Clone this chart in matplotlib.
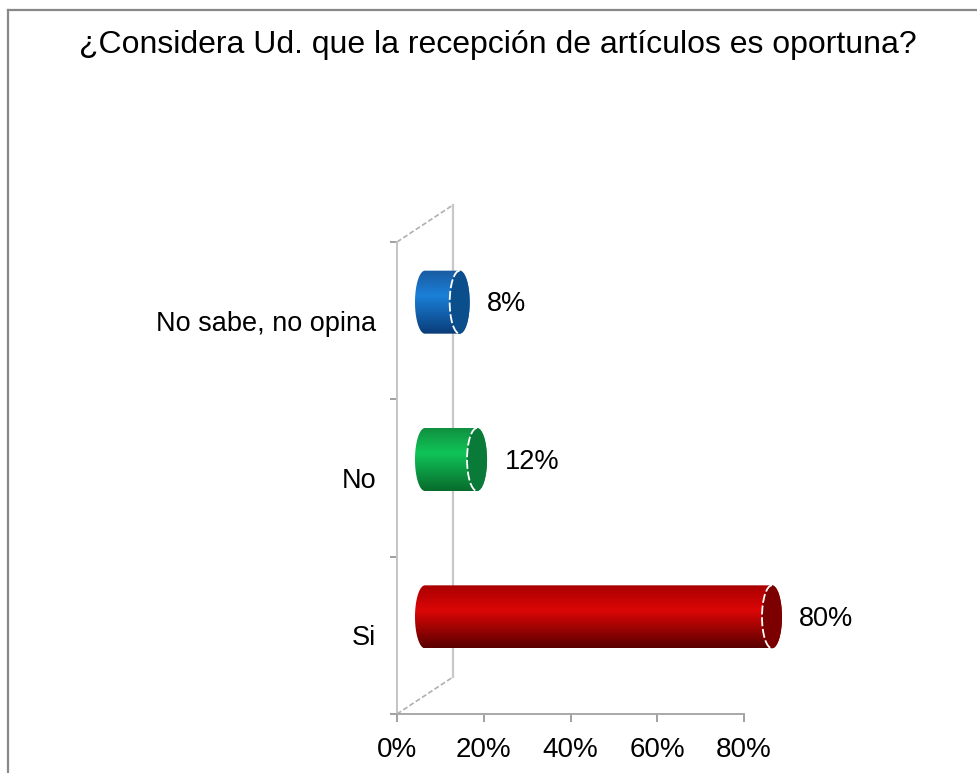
import numpy as np
import matplotlib.pyplot as plt
from matplotlib.path import Path
from matplotlib.patches import PathPatch, Ellipse, Arc
from matplotlib.lines import Line2D
from matplotlib.colors import LinearSegmentedColormap

plt.rcParams['font.family'] = ['Liberation Sans', 'DejaVu Sans']

# datos de la encuesta
categorias = ['Si', 'No', 'No sabe, no opina']
porcentajes = [0.80, 0.12, 0.08]
etiquetas = ['80%', '12%', '8%']
ticks_x = [0.0, 0.2, 0.4, 0.6, 0.8]
ticks_x_txt = ['0%', '20%', '40%', '60%', '80%']
titulo = '¿Considera Ud. que la recepción de artículos es oportuna?'

# colores de cada cilindro: borde superior, centro, borde inferior, tapa
colores = [
    ['#a80000', '#dc0606', '#580000', '#7c0000'],
    ['#109040', '#10c458', '#086a2c', '#0a7a38'],
    ['#1a5aa0', '#1a80d8', '#0a3c78', '#0a4e8c'],
]

W, H = 977, 773
fig = plt.figure(figsize=(W / 100, H / 100), dpi=100)
ax = fig.add_axes([397 / W, 59 / H, 347 / W, 472 / H])
ax.set_xlim(0, 0.8)
ax.set_ylim(-0.5, 2.5)

# escala en pixeles para el efecto 3D
px_x = 347 / 0.8
px_y = 472 / 3
dx = 56 / px_x          # profundidad en x
dy = 37 / px_y          # profundidad en y
hh = 31.5 / px_y        # media altura del cilindro
a = 10 / px_x           # semi-eje de la tapa

# pared izquierda: linea trasera y diagonales
ax.plot([dx, dx], [-0.5 + dy, 2.5 + dy], color='#c8c8c8', lw=1.6, clip_on=False, zorder=1)
ax.plot([0, dx], [2.5, 2.5 + dy], color='#b0b0b0', lw=1.2, ls=(0, (3, 1.5)), clip_on=False, zorder=1)
ax.plot([0, dx], [-0.5, -0.5 + dy], color='#b0b0b0', lw=1.2, ls=(0, (3, 1.5)), clip_on=False, zorder=1)

t = np.linspace(0, np.pi, 60)
for i, (v, lbl, col) in enumerate(zip(porcentajes, etiquetas, colores)):
    yc = i + dy / 2
    x0 = dx / 2
    x1 = v + dx / 2
    # contorno del cilindro: lado superior, tapa derecha, lado inferior, extremo izquierdo
    der = np.column_stack([x1 + a * np.sin(t), yc + hh * np.cos(t)])
    izq = np.column_stack([x0 - a * np.sin(t), yc - hh * np.cos(t)])
    verts = np.vstack([[x0, yc + hh], der, izq, [x0, yc + hh]])
    codes = [Path.MOVETO] + [Path.LINETO] * (len(verts) - 2) + [Path.CLOSEPOLY]
    patch = PathPatch(Path(verts, codes), facecolor='none', edgecolor='none',
                      zorder=3, clip_on=False)
    ax.add_patch(patch)

    cmap = LinearSegmentedColormap.from_list('c%d' % i, [(0, col[0]), (0.4, col[1]), (1, col[2])])
    grad = np.linspace(0, 1, 256).reshape(-1, 1)
    img = ax.imshow(grad, extent=(x0 - a, x1 + a, yc - hh, yc + hh), aspect='auto',
                    cmap=cmap, origin='upper', zorder=3, interpolation='bilinear')
    img.set_clip_box(fig.bbox)
    img.set_clip_path(patch)

    ax.add_patch(Ellipse((x1, yc), 2 * a, 2 * hh, facecolor=col[3], edgecolor='none',
                         zorder=4, clip_on=False))
    ax.add_patch(Arc((x1, yc), 2 * a, 2 * hh, theta1=90, theta2=270, color='white',
                     lw=1.3, ls=(0, (5, 1.5)), zorder=5, clip_on=False))

    ax.annotate(lbl, xy=(x1 + a, yc), xytext=(12.5, -1.5), textcoords='offset points',
                va='center', ha='left', fontsize=19.5, color='black', zorder=6,
                annotation_clip=False)

ax.set_xlim(0, 0.8)
ax.set_ylim(-0.5, 2.5)

for s in ['top', 'right']:
    ax.spines[s].set_visible(False)
ax.spines['left'].set_color('#c4c4c4')
ax.spines['left'].set_linewidth(1.4)
ax.spines['bottom'].set_color('#a8a8a8')
ax.spines['bottom'].set_linewidth(1.4)

ax.set_xticks(ticks_x)
ax.set_xticklabels(ticks_x_txt)
ax.tick_params(axis='x', length=6, width=1.4, color='#a0a0a0', pad=10.5, labelsize=20)

ax.set_yticks(range(len(categorias)))
ax.set_yticklabels(categorias)
ax.set_yticks([-0.5, 0.5, 1.5, 2.5], minor=True)
ax.tick_params(axis='y', which='major', length=0, pad=15, labelsize=19.5)
ax.tick_params(axis='y', which='minor', length=5, width=1.4, color='#a0a0a0')

fig.text(498 / W, 1 - 45 / H, titulo, ha='center', va='center', fontsize=23)

# marco exterior
fig.add_artist(Line2D([7.5 / W, 1], [1 - 9.5 / H, 1 - 9.5 / H], color='#888888', lw=1.6))
fig.add_artist(Line2D([7.5 / W, 7.5 / W], [0, 1 - 9.5 / H], color='#888888', lw=1.6))

fig.savefig('out.png', dpi=100, facecolor='white')
